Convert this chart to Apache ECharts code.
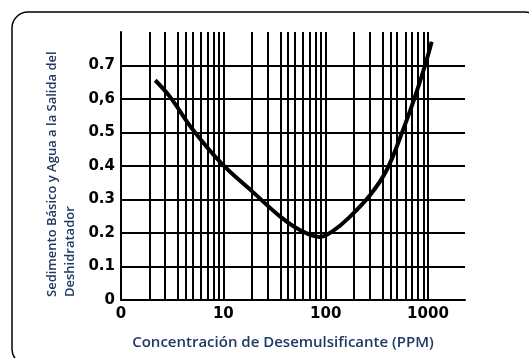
<!DOCTYPE html>
<html>
<head>
<meta charset="utf-8">
<script src="https://cdn.jsdelivr.net/npm/echarts@6/dist/echarts.min.js"></script>
<style>
html,body{margin:0;padding:0;background:#fff;}
#chart{width:529px;height:358px;}
</style>
</head>
<body>
<div id="chart"></div>
<script>
// Curve data (x: PPM on log scale, y: BS&W)
var ppmValues = [2.16, 3.0, 5.0, 9.6, 19.5, 36, 56, 88, 119, 160, 271, 395, 574, 747, 935, 1087];
var bswValues = [0.656, 0.607, 0.51, 0.408, 0.322, 0.249, 0.209, 0.188, 0.207, 0.239, 0.313, 0.388, 0.51, 0.607, 0.70, 0.771];
// Grid line multipliers inside each decade (as drawn in the reference)
var minorMultipliers = [1.9, 2.7, 3.6, 4.3, 5, 6, 7, 8, 9];
var decades = [1, 10, 100];
// Tick labels
var yTickLabels = ['0', '0.1', '0.2', '0.3', '0.4', '0.5', '0,6', '0.7'];
var xTickLabels = {1: '0', 10: '10', 100: '100', 1000: '1000'};
var xTitle = 'Concentración de Desemulsificante (PPM)';
var yTitleLines = ['Sedimento Básico y Agua a la Salida del', 'Deshidratador'];

var chart = echarts.init(document.getElementById('chart'), null, {renderer: 'canvas'});

var minorLines = [];
decades.forEach(function (d) {
  minorMultipliers.forEach(function (m) { minorLines.push({xAxis: d * m}); });
});

var seriesData = ppmValues.map(function (x, i) { return [x, bswValues[i]]; });
var navy = '#1f3864';

var option = {
  backgroundColor: '#fff',
  animation: false,
  grid: {left: 121, right: 64, top: 32, bottom: 58},
  xAxis: {
    type: 'log',
    logBase: 10,
    min: 1,
    max: 2300,
    axisLine: {show: true, lineStyle: {color: '#000', width: 2}},
    axisTick: {show: false},
    axisLabel: {
      showMaxLabel: false,
      margin: 7,
      color: '#000',
      fontFamily: 'DejaVu Sans',
      fontWeight: 'bold',
      fontSize: 15,
      formatter: function (v) {
        var k = Math.round(v);
        return xTickLabels[k] !== undefined ? xTickLabels[k] : '';
      }
    },
    splitLine: {show: true, showMinLine: false, showMaxLine: false, lineStyle: {color: '#000', width: 2}}
  },
  yAxis: {
    type: 'value',
    min: 0,
    max: 0.8,
    interval: 0.1,
    axisLine: {show: true, lineStyle: {color: '#000', width: 2}},
    axisTick: {show: false},
    axisLabel: {
      showMaxLabel: false,
      margin: 6,
      color: '#000',
      fontFamily: 'DejaVu Sans',
      fontWeight: 'bold',
      fontSize: 15,
      formatter: function (v) {
        var i = Math.round(v * 10);
        return yTickLabels[i] !== undefined ? yTickLabels[i] : '';
      }
    },
    splitLine: {show: true, showMaxLine: false, lineStyle: {color: '#000', width: 2}}
  },
  series: [{
    type: 'line',
    data: seriesData,
    smooth: 0.4,
    symbol: 'none',
    lineStyle: {color: '#000', width: 4},
    z: 5,
    markLine: {
      silent: true,
      symbol: 'none',
      label: {show: false},
      lineStyle: {color: '#000', width: 2, type: 'solid'},
      data: minorLines,
      z: 1
    }
  }],
  graphic: [
    {
      type: 'rect',
      shape: {x: 12, y: 12, width: 529, height: 353, r: 16},
      style: {fill: 'none', stroke: '#000', lineWidth: 1.5},
      silent: true
    },
    {
      type: 'text',
      x: 283, y: 343,
      style: {text: xTitle, fill: navy, font: '600 15px "Open Sans"', textAlign: 'center', textVerticalAlign: 'middle'}
    },
    {
      type: 'text',
      x: 52, y: 297, rotation: Math.PI / 2,
      style: {text: yTitleLines[0], fill: navy, font: '600 13px "Open Sans"', textAlign: 'left', textVerticalAlign: 'middle'}
    },
    {
      type: 'text',
      x: 70, y: 297, rotation: Math.PI / 2,
      style: {text: yTitleLines[1], fill: navy, font: '600 13px "Open Sans"', textAlign: 'left', textVerticalAlign: 'middle'}
    }
  ]
};
chart.setOption(option);
</script>
</body>
</html>
